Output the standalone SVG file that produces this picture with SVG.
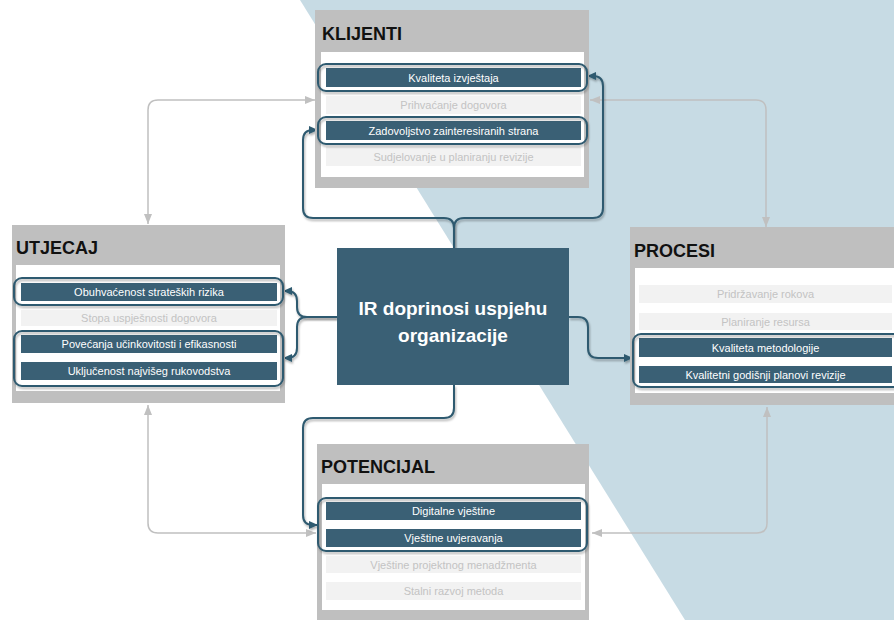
<svg xmlns="http://www.w3.org/2000/svg" width="894" height="620" viewBox="0 0 894 620">
<defs>
<style>
.gbox{fill:#bfbfbf}
.panel{fill:#ffffff}
.dark{fill:#3a6075}
.light{fill:#f2f2f2}
.title{font-family:"Liberation Sans",Arial,sans-serif;font-weight:bold;font-size:18px;fill:#111}
.tw{font-family:"Liberation Sans",Arial,sans-serif;font-size:11px;fill:#ffffff;text-anchor:middle}
.tl{font-family:"Liberation Sans",Arial,sans-serif;font-size:11px;fill:#c3c3c3;text-anchor:middle}
.outline{fill:none;stroke:#2f5a6f;stroke-width:2;filter:url(#sh)}
.dline{fill:none;stroke:#2f5a6f;stroke-width:2;filter:url(#sh);marker-end:url(#ad)}
.gline{fill:none;stroke:#c0c0c0;stroke-width:1.5;marker-start:url(#ag);marker-end:url(#ag)}
.ctext{font-family:"Liberation Sans",Arial,sans-serif;font-weight:bold;font-size:19px;fill:#ffffff;text-anchor:middle}
</style>
<filter id="sh" x="-20%" y="-20%" width="140%" height="140%">
<feDropShadow dx="1" dy="2" stdDeviation="1.2" flood-color="#000" flood-opacity="0.3"/>
</filter>
<marker id="ag" viewBox="0 0 10 8" refX="10" refY="4" markerWidth="10" markerHeight="8" markerUnits="userSpaceOnUse" orient="auto-start-reverse">
<path d="M0,0 L10,4 L0,8 z" fill="#c0c0c0"/>
</marker>
<marker id="ad" viewBox="0 0 9 8" refX="9" refY="4" markerWidth="9" markerHeight="8" markerUnits="userSpaceOnUse" orient="auto">
<path d="M0,0 L9,4 L0,8 z" fill="#2f5a6f"/>
</marker>
</defs>
<rect x="0" y="0" width="894" height="620" fill="#ffffff"/>
<polygon points="300,0 894,0 894,620 685,620" fill="#c7dbe4"/>

<g id="connectors">
<path class="gline" d="M315,100 H158 Q148,100 148,110 V224"/>
<path class="gline" d="M590,100 H756 Q766,100 766,110 V227"/>
<path class="gline" d="M148,405 V523 Q148,533 158,533 H316"/>
<path class="gline" d="M767,407 V523 Q767,533 757,533 H592"/>
<path class="dline" d="M454,248 V228 Q454,218 444,218 H313 Q303,218 303,208 V140 Q303,130 313,130 H318"/>
<path class="dline" d="M454,248 V228 Q454,218 464,218 H593 Q603,218 603,208 V86 Q603,76 593,76 H587"/>
<path class="dline" d="M337,317 H307 Q297,317 297,307 V301 Q297,291 287,291 H283"/>
<path class="dline" d="M337,317 H307 Q297,317 297,327 V348 Q297,358 287,358 H283"/>
<path class="dline" d="M569,317 H578 Q588,317 588,327 V348 Q588,358 598,358 H633"/>
<path class="dline" d="M454,385 V408 Q454,418 444,418 H313 Q303,418 303,428 V515 Q303,525 313,525 H318"/>
</g>

<g id="klijenti">
<rect class="gbox" x="315" y="10" width="274" height="178"/>
<text class="title" x="322" y="40">KLIJENTI</text>
<rect class="panel" x="321" y="52" width="263" height="125"/>
<rect class="dark" x="326" y="68" width="255" height="19"/>
<text class="tw" x="453.5" y="81.5">Kvaliteta izvještaja</text>
<rect class="light" x="326" y="96" width="255" height="18"/>
<text class="tl" x="453.5" y="109">Prihvaćanje dogovora</text>
<rect class="dark" x="326" y="121" width="255" height="19"/>
<text class="tw" x="453.5" y="134.5">Zadovoljstvo zainteresiranih strana</text>
<rect class="light" x="326" y="147" width="255" height="19"/>
<text class="tl" x="453.5" y="160.5">Sudjelovanje u planiranju revizije</text>
<rect class="outline" x="318" y="64" width="269" height="27" rx="8"/>
<rect class="outline" x="318" y="117" width="269" height="27" rx="8"/>
</g>

<g id="utjecaj">
<rect class="gbox" x="12" y="225" width="273" height="178"/>
<text class="title" x="16" y="254">UTJECAJ</text>
<rect class="panel" x="16" y="265" width="264" height="126"/>
<rect class="dark" x="21" y="283" width="256" height="18"/>
<text class="tw" x="149" y="296">Obuhvaćenost strateških rizika</text>
<rect class="light" x="21" y="310" width="256" height="16"/>
<text class="tl" x="149" y="322">Stopa uspješnosti dogovora</text>
<rect class="dark" x="21" y="335" width="256" height="18"/>
<text class="tw" x="149" y="348">Povećanja učinkovitosti i efikasnosti</text>
<rect class="dark" x="21" y="362" width="256" height="18"/>
<text class="tw" x="149" y="375">Uključenost najvišeg rukovodstva</text>
<rect class="outline" x="14" y="278" width="269" height="27" rx="8"/>
<rect class="outline" x="14" y="331" width="269" height="55" rx="8"/>
</g>

<g id="procesi">
<rect class="gbox" x="630" y="227" width="264" height="178"/>
<text class="title" x="634" y="257">PROCESI</text>
<rect class="panel" x="635" y="268" width="259" height="125"/>
<rect class="light" x="639" y="285" width="253" height="18"/>
<text class="tl" x="765.5" y="298">Pridržavanje rokova</text>
<rect class="light" x="639" y="313" width="253" height="17"/>
<text class="tl" x="765.5" y="325.5">Planiranje resursa</text>
<rect class="dark" x="639" y="338" width="253" height="19"/>
<text class="tw" x="765.5" y="351.5">Kvaliteta metodologije</text>
<rect class="dark" x="639" y="366" width="253" height="17"/>
<text class="tw" x="765.5" y="378.5">Kvalitetni godišnji planovi revizije</text>
<rect class="outline" x="633" y="334" width="269" height="53" rx="8"/>
</g>

<g id="potencijal">
<rect class="gbox" x="317" y="444" width="272" height="178"/>
<text class="title" x="321" y="473">POTENCIJAL</text>
<rect class="panel" x="322" y="484" width="263" height="126"/>
<rect class="dark" x="326" y="502" width="255" height="18"/>
<text class="tw" x="453.5" y="515">Digitalne vještine</text>
<rect class="dark" x="326" y="529" width="255" height="18"/>
<text class="tw" x="453.5" y="542">Vještine uvjeravanja</text>
<rect class="light" x="326" y="556" width="255" height="17"/>
<text class="tl" x="453.5" y="568.5">Vještine projektnog menadžmenta</text>
<rect class="light" x="326" y="582" width="255" height="18"/>
<text class="tl" x="453.5" y="595">Stalni razvoj metoda</text>
<rect class="outline" x="318" y="498" width="269" height="53" rx="8"/>
</g>

<g id="center">
<rect x="337" y="248" width="232" height="137" fill="#3a6075"/>
<text class="ctext" x="453" y="315">IR doprinosi uspjehu</text>
<text class="ctext" x="453" y="342">organizacije</text>
</g>
</svg>
